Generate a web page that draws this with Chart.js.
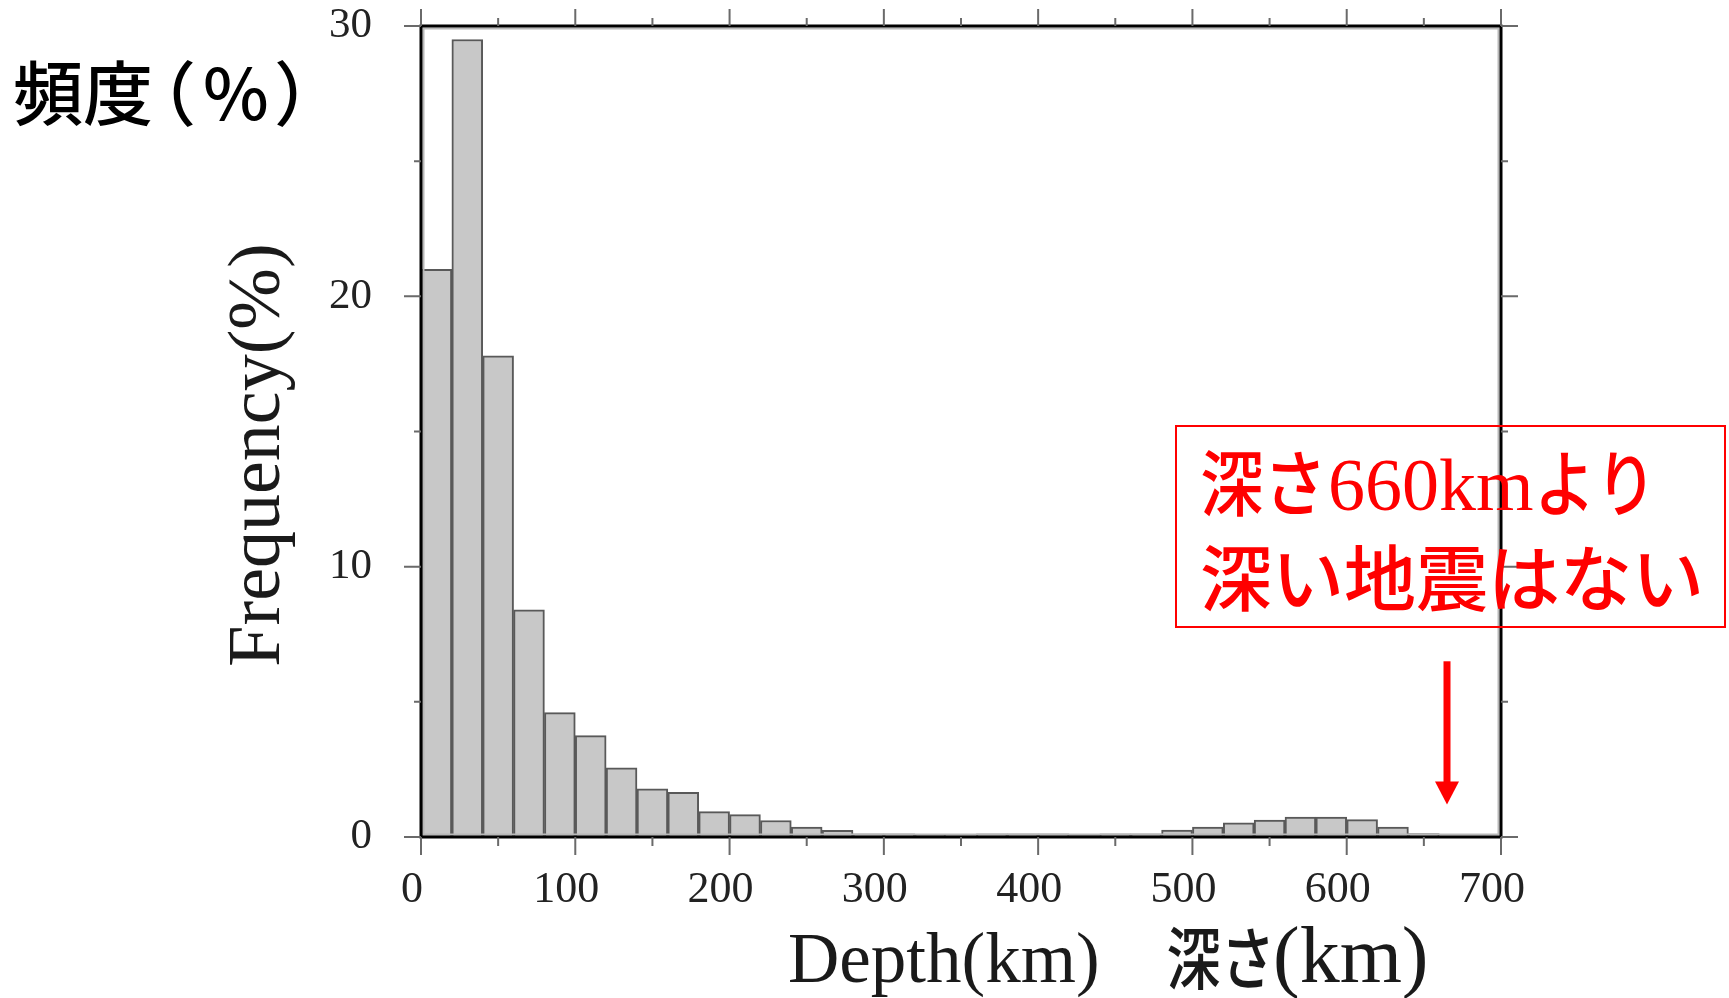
<!DOCTYPE html>
<html lang="ja">
<head>
<meta charset="utf-8">
<title>震源の深さの分布</title>
<script src="https://cdn.jsdelivr.net/npm/chart.js@4.4.1/dist/chart.umd.min.js"></script>
<style>
    html, body { margin: 0; padding: 0; background: #fff; }
    #wrap { position: relative; width: 1729px; height: 998px; }
</style>
</head>
<body>
<div id="wrap"><canvas id="depthChart" width="1729" height="998"></canvas></div>
<script>
// Depth histogram, 20 km bins (bin centres in km)
const binCenters = [10, 30, 50, 70, 90, 110, 130, 150, 170, 190,
    210, 230, 250, 270, 290, 310, 330, 350, 370, 390,
    410, 430, 450, 470, 490, 510, 530, 550, 570, 590,
    610, 630, 650];

// Frequency (%) of each bin
const frequency = [21.0, 29.5, 17.8, 8.4, 4.6, 3.75, 2.56, 1.78, 1.65, 0.94,
    0.83, 0.61, 0.37, 0.25, 0.12, 0.12, 0.10, 0.04, 0.12, 0.12,
    0.12, 0.05, 0.12, 0.12, 0.26, 0.37, 0.52, 0.63, 0.74, 0.74,
    0.64, 0.37, 0.13];

const xRange = [0, 700];
const yRange = [0, 30];

// arrow pointing at 660 km
const arrowDepth = 665;
const arrowFrom = 6.5;
const arrowTo = 1.2;

const SERIF = '"Liberation Serif", "Times New Roman", serif';
const CJK = '"Noto Sans CJK JP", sans-serif';

// draw text so that its ink starts at inkX (sx squeezes it horizontally)
function inkText(c, str, font, inkX, baseY, sx) {
    sx = sx || 1;
    c.font = font;
    const m = c.measureText(str);
    c.save();
    c.translate(inkX, baseY);
    c.scale(sx, 1);
    c.fillText(str, m.actualBoundingBoxLeft, 0);
    c.restore();
}

// Frame, ticks, labels and the note
const decorations = {
    id: 'decorations',
    afterDatasetsDraw(chart) {
        const c = chart.ctx;
        const area = chart.chartArea;
        const xs = chart.scales.x;
        const ys = chart.scales.y;

        c.save();

        // inner gray edge then black frame
        c.strokeStyle = '#b8b8b8';
        c.lineWidth = 2;
        c.strokeRect(area.left + 2.5, area.top + 2.5, area.width - 5, area.height - 5);
        c.strokeStyle = '#000';
        c.lineWidth = 3;
        c.strokeRect(area.left, area.top, area.width, area.height);

        // ticks on all four sides
        c.strokeStyle = '#6a6a6a';
        c.lineWidth = 2;
        c.beginPath();
        for (let v = xRange[0]; v <= xRange[1]; v += 50) {
            const px = xs.getPixelForValue(v);
            const len = v % 100 === 0 ? 17 : 8;
            c.moveTo(px, area.top);
            c.lineTo(px, area.top - len);
            c.moveTo(px, area.bottom);
            c.lineTo(px, area.bottom + len + 1);
        }
        for (let v = yRange[0]; v <= yRange[1]; v += 5) {
            const py = ys.getPixelForValue(v);
            const len = v % 10 === 0 ? 17 : 7;
            c.moveTo(area.left, py);
            c.lineTo(area.left - len, py);
            c.moveTo(area.right, py);
            c.lineTo(area.right + len, py);
        }
        c.stroke();

        // axis titles
        c.fillStyle = '#1a1a1a';
        c.textBaseline = 'alphabetic';
        c.textAlign = 'left';
        inkText(c, 'Depth(km)', '71px ' + SERIF, 790, 982);
        inkText(c, '深さ', '500 68px ' + CJK, 1168, 984, 0.8);
        inkText(c, '(km)', '80px ' + SERIF, 1276, 982);

        c.save();
        c.translate(279, 455);
        c.rotate(-Math.PI / 2);
        c.textAlign = 'center';
        c.font = '74px ' + SERIF;
        c.fillText('Frequency(%)', 0, 0);
        c.restore();

        c.fillStyle = '#000';
        inkText(c, '頻度', '500 70px ' + CJK, 15, 120);
        inkText(c, '（', '500 70px ' + CJK, 173, 120);
        inkText(c, '%', '500 70px ' + CJK, 205, 120);
        inkText(c, '）', '500 70px ' + CJK, 277, 120);

        // red note box
        c.strokeStyle = '#ff0000';
        c.lineWidth = 2;
        c.strokeRect(1176, 426, 549, 201);
        c.fillStyle = '#ff0000';
        inkText(c, '深さ', '500 72px ' + CJK, 1202, 510, 0.88);
        inkText(c, '660km', '74px ' + SERIF, 1331, 510);
        inkText(c, 'より', '500 72px ' + CJK, 1541, 510, 0.85);
        inkText(c, '深い地震はない', '500 72px ' + CJK, 1202, 605);

        // arrow
        const ax = xs.getPixelForValue(arrowDepth);
        const yTop = ys.getPixelForValue(arrowFrom);
        const yTip = ys.getPixelForValue(arrowTo);
        c.strokeStyle = '#ff0000';
        c.lineWidth = 7;
        c.beginPath();
        c.moveTo(ax, yTop);
        c.lineTo(ax, yTip - 20);
        c.stroke();
        c.beginPath();
        c.moveTo(ax - 12, yTip - 23);
        c.lineTo(ax + 12, yTip - 23);
        c.lineTo(ax, yTip);
        c.closePath();
        c.fill();

        c.restore();
    }
};

const ctx = document.getElementById('depthChart').getContext('2d');
const depthChart = new Chart(ctx, {
    type: 'bar',
    data: {
        datasets: [{
            data: binCenters.map((d, i) => ({ x: d, y: frequency[i] })),
            backgroundColor: '#c8c8c8',
            borderColor: '#595959',
            borderWidth: 2,
            borderSkipped: 'start',
            barPercentage: 1,
            categoryPercentage: 1
        }]
    },
    options: {
        responsive: false,
        animation: false,
        devicePixelRatio: 1,
        layout: {
            padding: { left: 0, top: 26, right: 228, bottom: 0 }
        },
        plugins: {
            legend: { display: false },
            tooltip: { enabled: false }
        },
        scales: {
            x: {
                type: 'linear',
                min: xRange[0],
                max: xRange[1],
                offset: false,
                grid: { display: false, drawTicks: false },
                border: { display: false },
                ticks: {
                    stepSize: 100,
                    autoSkip: false,
                    maxRotation: 0,
                    padding: 31,
                    labelOffset: -9,
                    color: '#222',
                    font: { family: SERIF, size: 44, lineHeight: 1 }
                },
                afterFit(scale) {
                    scale.height = 161;
                    scale.paddingLeft = 0;
                    scale.paddingRight = 0;
                }
            },
            y: {
                min: yRange[0],
                max: yRange[1],
                grid: { display: false, drawTicks: false },
                border: { display: false },
                ticks: {
                    stepSize: 10,
                    padding: 49,
                    color: '#222',
                    font: { family: SERIF, size: 43, lineHeight: 1 }
                },
                afterFit(scale) {
                    scale.width = 421;
                    scale.paddingTop = 0;
                    scale.paddingBottom = 0;
                }
            }
        }
    },
    plugins: [decorations]
});
</script>
</body>
</html>
